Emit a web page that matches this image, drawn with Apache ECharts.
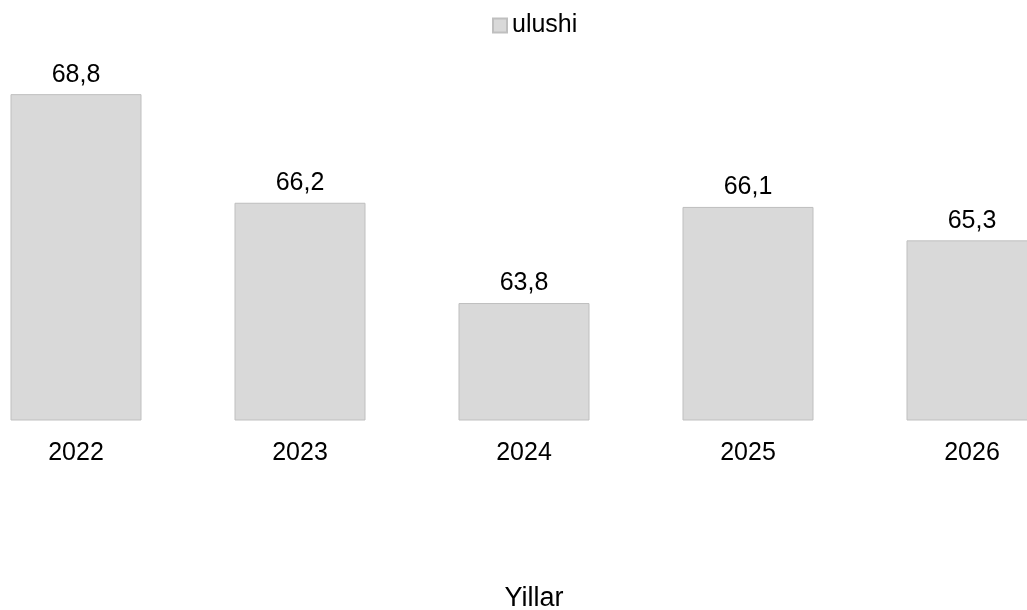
<!DOCTYPE html>
<html>
<head>
<meta charset="utf-8">
<script src="https://cdn.jsdelivr.net/npm/echarts@6/dist/echarts.min.js"></script>
<style>
  html, body { margin: 0; padding: 0; background: #fff; overflow: hidden; }
  /* plot area is wider than the window: first and last categories are cut off */
  #chart { width: 1120px; height: 610px; margin-left: -36px; }
</style>
</head>
<body>
<div id="chart"></div>
<script>
const years = ['2022', '2023', '2024', '2025', '2026']
const ulushi = [68.8, 66.2, 63.8, 66.1, 65.3]
const seriesName = 'ulushi'
const axisName = 'Yillar'

const chart = echarts.init(document.getElementById('chart'))
const font = 'Liberation Sans, Arial, sans-serif'

chart.setOption({
  animation: false,
  legend: {
    top: 8,
    left: 523,
    itemWidth: 14,
    itemHeight: 14,
    itemGap: 6,
    icon: 'rect',
    textStyle: { fontFamily: font, fontSize: 25, color: '#000' },
    data: [seriesName]
  },
  grid: { left: 0, right: 0, top: 44, bottom: 190, outerBoundsMode: 'none' },
  xAxis: {
    type: 'category',
    data: years,
    name: axisName,
    nameLocation: 'middle',
    nameGap: 165,
    nameTextStyle: { fontFamily: font, fontSize: 27, color: '#000', padding: [0, 0, 0, 20] },
    axisLine: { show: false },
    axisTick: { show: false },
    axisLabel: { fontFamily: font, fontSize: 25, color: '#000', margin: 21 }
  },
  yAxis: {
    type: 'value',
    min: 61,
    max: 70,
    show: false,
    splitLine: { show: false }
  },
  series: [{
    name: seriesName,
    type: 'bar',
    data: ulushi,
    barWidth: 131,
    itemStyle: { color: '#d9d9d9', borderColor: '#bfbfbf', borderWidth: 1 },
    label: {
      show: true,
      position: 'top',
      distance: 7,
      fontFamily: font,
      fontSize: 25,
      color: '#000',
      formatter: p => String(p.value).replace('.', ',')
    }
  }]
})
</script>
</body>
</html>
